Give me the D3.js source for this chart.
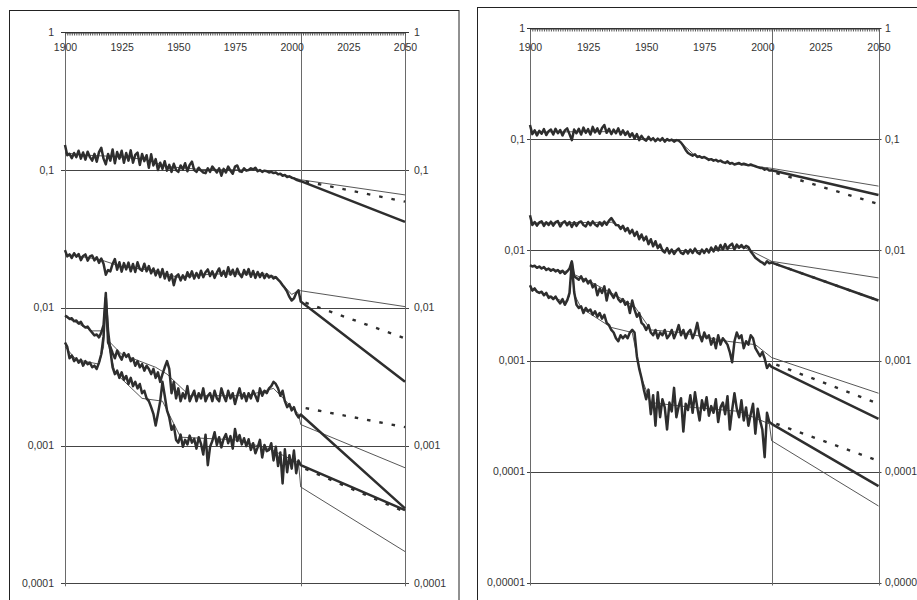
<!DOCTYPE html>
<html>
<head>
<meta charset="utf-8">
<script src="https://cdn.jsdelivr.net/npm/d3@7"></script>
<style>
  body { margin: 0; background: #fff; }
  svg { display: block; font-family: "Liberation Sans", Arial, sans-serif; }
</style>
</head>
<body>
<svg id="chart" width="917" height="600"></svg>
<script>
// yearly observed values 1900..2004
const histYears = d3.range(1900, 2005);
const projYears = [2004, 2050];
const yearLabels = [1900, 1925, 1950, 1975, 2000, 2025, 2050];

// ---- left panel ----
const leftA = [
  0.152, 0.128, 0.131, 0.122, 0.133, 0.124, 0.138, 0.121, 0.134, 0.119,
  0.136, 0.124, 0.117, 0.131, 0.115, 0.135, 0.145, 0.121, 0.11, 0.131,
  0.117, 0.141, 0.112, 0.135, 0.121, 0.138, 0.113, 0.133, 0.117, 0.139,
  0.113, 0.129, 0.134, 0.109, 0.131, 0.116, 0.128, 0.104, 0.13, 0.108,
  0.12, 0.1, 0.113, 0.102, 0.116, 0.099, 0.109, 0.097, 0.111, 0.1,
  0.097, 0.108, 0.101, 0.112, 0.098, 0.109, 0.115, 0.1, 0.097, 0.104,
  0.099, 0.096, 0.095, 0.103, 0.097, 0.106, 0.101, 0.096, 0.103, 0.091,
  0.102, 0.096, 0.106, 0.099, 0.094, 0.106, 0.108, 0.098, 0.097, 0.103,
  0.099, 0.1, 0.103, 0.101, 0.104, 0.098, 0.1, 0.097, 0.099, 0.098,
  0.096, 0.097, 0.095, 0.096, 0.093, 0.094, 0.091, 0.092, 0.089, 0.09,
  0.088, 0.087, 0.085, 0.084, 0.083
];
const leftB = [
  0.0262, 0.0236, 0.0244, 0.023, 0.0249, 0.0235, 0.0246, 0.0222, 0.0238, 0.0244,
  0.022, 0.0236, 0.024, 0.0221, 0.0233, 0.0212, 0.0228, 0.0209, 0.0174, 0.0188,
  0.0184, 0.0208, 0.0226, 0.0189, 0.0214, 0.0183, 0.0211, 0.019, 0.0213, 0.0184,
  0.0208, 0.0182, 0.0214, 0.0191, 0.0186, 0.0209, 0.0184, 0.0201, 0.0178, 0.0193,
  0.0172, 0.0189, 0.0167, 0.0191, 0.0163, 0.0182, 0.0158, 0.0175, 0.0146, 0.0169,
  0.0175, 0.0158, 0.0172, 0.016, 0.0181, 0.0167, 0.0184, 0.0163, 0.0179, 0.0165,
  0.0186, 0.0167, 0.0181, 0.019, 0.017, 0.0184, 0.0165, 0.018, 0.0193, 0.0171,
  0.0185, 0.0168, 0.0197, 0.0174, 0.0189, 0.017, 0.0192, 0.0175, 0.0167, 0.0188,
  0.0174, 0.0191, 0.0168, 0.0185, 0.0165, 0.0182, 0.0167, 0.0179, 0.0164, 0.0176,
  0.0166, 0.0171, 0.0163, 0.0167, 0.016, 0.0154, 0.0146, 0.0139, 0.0131, 0.012,
  0.0113, 0.0117, 0.0128, 0.0134, 0.0111
];
const leftC = [
  0.0088, 0.0086, 0.0083, 0.0084, 0.008, 0.0081, 0.0077, 0.0079, 0.0074, 0.0072,
  0.0073, 0.0069, 0.0066, 0.0063, 0.0064, 0.0061, 0.0066, 0.0075, 0.0128, 0.0056,
  0.0052, 0.0047, 0.0043, 0.0049, 0.0045, 0.0042, 0.0047, 0.0044, 0.0046, 0.0041,
  0.0043, 0.0038, 0.0041, 0.0037, 0.0039, 0.0035, 0.0038, 0.0036, 0.0033, 0.0036,
  0.0031, 0.0034, 0.0029, 0.0033, 0.0037, 0.0041, 0.0036, 0.0024, 0.0029, 0.0022,
  0.0026, 0.0021, 0.0024, 0.0022, 0.0027, 0.0021, 0.0023, 0.0025, 0.0021, 0.0024,
  0.0022, 0.0026, 0.0021, 0.0023, 0.0024, 0.0021, 0.0025, 0.0022, 0.0021, 0.0026,
  0.0023, 0.0021, 0.0025, 0.0022, 0.0024, 0.002, 0.0023, 0.0026, 0.0022, 0.0024,
  0.0021, 0.0024, 0.0022, 0.0025, 0.0023, 0.0021, 0.0026, 0.0023, 0.0025, 0.0024,
  0.0026, 0.0027, 0.0029, 0.0028, 0.0026, 0.0023, 0.0025, 0.0021, 0.0019, 0.002,
  0.0018, 0.0019, 0.0017, 0.0016, 0.00168
];
const leftD = [
  0.0056, 0.0052, 0.0043, 0.0045, 0.0041, 0.0043, 0.004, 0.0042, 0.0038, 0.0041,
  0.0039, 0.004, 0.0037, 0.0038, 0.0036, 0.004, 0.0046, 0.0062, 0.0118, 0.0068,
  0.0049, 0.0037, 0.0033, 0.0035, 0.0031, 0.0034, 0.003, 0.0032, 0.0028, 0.0031,
  0.0027, 0.0029, 0.0026, 0.0028, 0.0024, 0.0025, 0.0022, 0.0021, 0.0019, 0.0017,
  0.0014, 0.0017, 0.0021, 0.0029, 0.0023, 0.0018, 0.0016, 0.0013, 0.0014, 0.0011,
  0.00105, 0.0012, 0.00098, 0.0011, 0.00102, 0.00118, 0.00105, 0.00112, 0.00095, 0.00115,
  0.00103, 0.00086, 0.0012, 0.00072, 0.00098, 0.00108, 0.00125, 0.00101, 0.00115, 0.00097,
  0.00112, 0.00121, 0.00104, 0.00117, 0.00095, 0.00132, 0.00108, 0.00119, 0.00102, 0.00113,
  0.00099, 0.00111, 0.00093, 0.00104, 0.00088, 0.00097, 0.0011, 0.00082, 0.00101, 0.00091,
  0.00093, 0.00104, 0.00078, 0.00098, 0.00071, 0.00089, 0.00053, 0.00094, 0.00064, 0.00085,
  0.00068, 0.00092, 0.00063, 0.00078, 0.00072
];
// smoothed trend lines, [year, value]
const leftATrend = [[1900, 0.133], [1910, 0.128], [1920, 0.126], [1935, 0.12], [1945, 0.106], [1960, 0.101], [1985, 0.1], [1995, 0.094], [2004, 0.085]];
const leftBTrend = [[1900, 0.0245], [1915, 0.0225], [1925, 0.0199], [1940, 0.0186], [1950, 0.0166], [1965, 0.0176], [1988, 0.0176], [1993, 0.0168], [2000, 0.0125], [2003, 0.0133]];
const leftCTrend = [[1900, 0.0086], [1912, 0.0068], [1917, 0.0068], [1918, 0.0118], [1919, 0.0058], [1925, 0.0046], [1940, 0.0037], [1945, 0.0033], [1955, 0.0023], [1980, 0.0023], [1992, 0.0026], [2000, 0.0019], [2003, 0.0017]];
const leftDTrend = [[1900, 0.0052], [1905, 0.0042], [1915, 0.0039], [1917, 0.0052], [1918, 0.0112], [1919, 0.0055], [1922, 0.0034], [1934, 0.0022], [1943, 0.0021], [1951, 0.00115], [1975, 0.0011], [1990, 0.00095], [2003, 0.00075]];
// scenario values at 2004 and 2050
const leftProjThin = [[0.085, 0.066], [0.0133, 0.0102], [0.00142, 0.00069], [0.0005, 0.00017]];
const leftProjDashed = [[0.084, 0.059], [0.0112, 0.006], [0.0019, 0.00136], [0.0007, 0.00033]];
const leftProjBold = [[0.083, 0.042], [0.0111, 0.0029], [0.00168, 0.00035], [0.00072, 0.00034]];
const leftTicks = [1, 0.1, 0.01, 0.001, 0.0001];
const leftTickLabels = ["1", "0,1", "0,01", "0,001", "0,0001"];

// ---- right panel ----
const rightA = [
  0.134, 0.111, 0.12, 0.108, 0.119, 0.112, 0.123, 0.109, 0.118, 0.122,
  0.11, 0.124, 0.113, 0.121, 0.108, 0.12, 0.125, 0.111, 0.098, 0.122,
  0.113, 0.124, 0.11, 0.127, 0.114, 0.123, 0.11, 0.129, 0.115, 0.125,
  0.112, 0.126, 0.134, 0.114, 0.124, 0.111, 0.122, 0.113, 0.125, 0.11,
  0.12, 0.109, 0.117, 0.105, 0.113, 0.101, 0.111, 0.098, 0.107, 0.1,
  0.097, 0.105, 0.098, 0.102, 0.096, 0.101, 0.097, 0.102, 0.095, 0.1,
  0.097, 0.099, 0.095, 0.098, 0.097, 0.093, 0.087, 0.08, 0.075, 0.073,
  0.071, 0.073, 0.069, 0.07, 0.068, 0.069, 0.067, 0.065, 0.066, 0.064,
  0.065, 0.063, 0.064, 0.062, 0.061, 0.063, 0.06, 0.061, 0.059, 0.06,
  0.061, 0.059, 0.06, 0.059, 0.058, 0.059, 0.058, 0.057, 0.056, 0.055,
  0.055, 0.053, 0.054, 0.052, 0.0525
];
const rightB = [
  0.0206, 0.0168, 0.0179, 0.0166, 0.0177, 0.0181, 0.0165, 0.0178, 0.0168, 0.018,
  0.0166, 0.0178, 0.0182, 0.0163, 0.0176, 0.0181, 0.0167, 0.0179, 0.0161, 0.0178,
  0.0165, 0.0177, 0.0181, 0.0168, 0.0163, 0.0179, 0.0167, 0.0181, 0.017, 0.0164,
  0.0178, 0.0166, 0.018, 0.0169, 0.0184, 0.0194, 0.0181, 0.0168, 0.0167, 0.0155,
  0.0165, 0.0148, 0.0158, 0.0141, 0.0152, 0.0134, 0.0146, 0.0125, 0.0138, 0.0122,
  0.0132, 0.0113, 0.0125, 0.0108, 0.012, 0.0104, 0.0112, 0.0099, 0.0095, 0.0104,
  0.0093, 0.0101, 0.0092, 0.0099, 0.0103, 0.0094, 0.0092, 0.01, 0.0093, 0.0101,
  0.0094, 0.0103, 0.0095, 0.0092, 0.0101, 0.0094, 0.0102, 0.0095, 0.0105, 0.0097,
  0.0108, 0.0099, 0.0111, 0.0101, 0.0113, 0.0102, 0.011, 0.0114, 0.0101, 0.0112,
  0.0105, 0.0111, 0.0104, 0.0109, 0.0106, 0.0097, 0.0091, 0.0085, 0.0082, 0.0079,
  0.0077, 0.0074, 0.0079, 0.0076, 0.0077
];
const rightC = [
  0.0073, 0.0071, 0.0072, 0.0069, 0.0071, 0.0068, 0.007, 0.0066, 0.0068, 0.0065,
  0.0067, 0.0064, 0.0066, 0.0062, 0.0065, 0.0061, 0.0064, 0.0068, 0.0079, 0.0058,
  0.0056, 0.0054, 0.0058, 0.0052, 0.0055, 0.005, 0.0053, 0.0046, 0.0049, 0.0039,
  0.0045, 0.0041, 0.0047, 0.0035, 0.0044, 0.004, 0.0037, 0.0041, 0.0036, 0.0034,
  0.0036, 0.0032, 0.0034, 0.0027, 0.0035, 0.0029, 0.0025, 0.0027, 0.0022, 0.0021,
  0.0019, 0.0021, 0.0018, 0.0017, 0.0019, 0.0016, 0.0018, 0.0017, 0.0019, 0.0016,
  0.0017, 0.0019, 0.0016, 0.0018, 0.0021, 0.0017, 0.0019, 0.0016, 0.0018, 0.0019,
  0.0016, 0.0018, 0.0022, 0.0017, 0.0015, 0.0018, 0.0016, 0.0017, 0.0014, 0.0016,
  0.0013, 0.0017, 0.0014, 0.0016, 0.0015, 0.0014, 0.0012, 0.00097, 0.0015, 0.0018,
  0.0016, 0.0017, 0.0013, 0.0015, 0.0014, 0.0017, 0.0016, 0.0013, 0.0012, 0.0011,
  0.0012, 0.00105, 0.00086, 0.00093, 0.00088
];
const rightD = [
  0.0048, 0.0043, 0.0045, 0.0042, 0.0041, 0.0042, 0.0039, 0.0041, 0.0037, 0.0038,
  0.0036, 0.0038, 0.0035, 0.0033, 0.0036, 0.0032, 0.0035, 0.0041, 0.0077, 0.0042,
  0.0032, 0.003, 0.0031, 0.0027, 0.003, 0.0028, 0.0029, 0.0026, 0.0028, 0.0025,
  0.0027, 0.0024, 0.0026, 0.0022, 0.0021, 0.0019, 0.0018, 0.0016, 0.0015, 0.0017,
  0.0016, 0.0017, 0.0016, 0.0018, 0.0019, 0.0018, 0.0011, 0.00085, 0.0007, 0.00055,
  0.00045, 0.00055, 0.00033, 0.00049, 0.00026, 0.00052, 0.00031, 0.00045, 0.00038, 0.00024,
  0.00042, 0.00035, 0.00057, 0.00031, 0.00039, 0.00046, 0.00023, 0.00041, 0.00036, 0.00049,
  0.00034, 0.00052, 0.00038, 0.00029, 0.00044, 0.00036, 0.00047, 0.00032, 0.00039, 0.00034,
  0.00045, 0.00028, 0.00038, 0.00042, 0.00033, 0.00048, 0.00024, 0.00036, 0.00051, 0.00037,
  0.00031, 0.00044, 0.00029, 0.00038, 0.00026, 0.00033, 0.00041, 0.00022, 0.00037, 0.00029,
  0.00024, 0.000135, 0.00034, 0.00028, 0.00027
];
const rightATrend = [[1900, 0.116], [1940, 0.117], [1950, 0.1], [1964, 0.097], [1971, 0.071], [1985, 0.061], [2004, 0.0545]];
const rightBTrend = [[1900, 0.0175], [1935, 0.0178], [1945, 0.0142], [1958, 0.0099], [1975, 0.0098], [1992, 0.0106], [2004, 0.0079]];
const rightCTrend = [[1900, 0.0072], [1915, 0.0064], [1917, 0.0066], [1918, 0.0078], [1919, 0.006], [1925, 0.0053], [1935, 0.0041], [1945, 0.0031], [1952, 0.0019], [1965, 0.0018], [1985, 0.0015], [1997, 0.0014], [2004, 0.00107]];
const rightDTrend = [[1900, 0.0045], [1915, 0.0034], [1917, 0.0038], [1918, 0.0076], [1919, 0.004], [1922, 0.003], [1935, 0.002], [1944, 0.0018], [1948, 0.0007], [1952, 0.00042], [1970, 0.00038], [1990, 0.00035], [2003, 0.00027]];
const rightProjThin = [[0.0545, 0.0377], [0.0079, 0.0056], [0.00107, 0.00051], [0.00019, 0.000049]];
const rightProjDashed = [[0.051, 0.026], [0.0077, 0.0035], [0.00096, 0.00041], [0.00028, 0.000125]];
const rightProjBold = [[0.0525, 0.0313], [0.0077, 0.0035], [0.00088, 0.0003], [0.00027, 0.000074]];
const rightTicks = [1, 0.1, 0.01, 0.001, 0.0001, 0.00001];
const rightTickLabels = ["1", "0,1", "0,01", "0,001", "0,0001", "0,00001"];

const svg = d3.select("#chart");
const ink = "#333";

function drawPanel(p) {
  const x = d3.scaleLinear().domain([1900, 2050]).range([p.x0, p.x1]);
  const y = d3.scaleLog().domain([p.ticks[p.ticks.length - 1], 1]).range([p.y1, p.y0]);
  const g = svg.append("g");

  // frame (runs off the page at bottom / right like the scan)
  g.append("rect")
    .attr("x", p.frame[0]).attr("y", p.frame[1])
    .attr("width", p.frame[2]).attr("height", 700)
    .attr("fill", "none").attr("stroke", "#222").attr("stroke-width", 1);

  // horizontal gridlines with small outer ticks
  g.selectAll("line.grid").data(p.ticks.slice(1)).join("line")
    .attr("class", "grid")
    .attr("x1", p.x0 - p.tickOut).attr("x2", p.x1 + p.tickOut)
    .attr("y1", d => Math.round(y(d)) + 0.5).attr("y2", d => Math.round(y(d)) + 0.5)
    .attr("stroke", "#444");

  // vertical lines: axes and start of projections
  g.selectAll("line.vert").data([1900, 2004, 2050]).join("line")
    .attr("class", "vert")
    .attr("x1", d => Math.round(x(d)) + 0.5).attr("x2", d => Math.round(x(d)) + 0.5)
    .attr("y1", p.y0).attr("y2", p.y1 + 3)
    .attr("stroke", "#6a6a6a");

  // top year axis
  g.append("g")
    .attr("transform", `translate(0,${Math.round(p.y0) + 0.5})`)
    .call(d3.axisBottom(x).tickValues(d3.range(1900, 2051)).tickSize(3).tickSizeOuter(0)
      .tickFormat(d => yearLabels.includes(d) ? d : ""))
    .attr("font-family", null).attr("font-size", 10.5)
    .call(a => a.select(".domain").attr("stroke", ink))
    .call(a => a.selectAll(".tick line").attr("stroke", "#555"))
    .call(a => a.selectAll(".tick text").attr("fill", ink).attr("dy", null)
      .attr("y", 50.5 - (Math.round(p.y0) + 0.5)));
  // extend top line to outer ticks
  g.append("line")
    .attr("x1", p.x0 - p.tickOut).attr("x2", p.x1 + p.tickOut)
    .attr("y1", Math.round(p.y0) + 0.5).attr("y2", Math.round(p.y0) + 0.5)
    .attr("stroke", ink);

  // value labels both sides
  const labels = g.append("g").attr("font-size", 10.5).attr("fill", ink);
  labels.selectAll("text.l").data(p.ticks).join("text")
    .attr("class", "l")
    .attr("x", p.labelLeft).attr("y", d => y(d)).attr("dy", "0.35em")
    .attr("text-anchor", "end")
    .text((d, i) => p.tickLabels[i]);
  labels.selectAll("text.r").data(p.ticks).join("text")
    .attr("class", "r")
    .attr("x", p.labelRight).attr("y", d => y(d)).attr("dy", "0.35em")
    .attr("text-anchor", "start")
    .text((d, i) => p.tickLabels[i]);

  const line = d3.line().x(d => x(d[0])).y(d => y(d[1]));

  p.series.forEach((vals, i) => {
    const thin = p.trends[i].concat(projYears.map((yr, j) => [yr, p.projThin[i][j]]));
    g.append("path").attr("d", line(thin))
      .attr("fill", "none").attr("stroke", "#444").attr("stroke-width", 0.9);
  });
  p.series.forEach((vals, i) => {
    const hist = histYears.map((yr, j) => [yr, vals[j]]);
    const bold = hist.concat(projYears.map((yr, j) => [yr, p.projBold[i][j]]));
    g.append("path").attr("d", line(bold))
      .attr("fill", "none").attr("stroke", "#2e2e2e").attr("stroke-width", 2.5)
      .attr("stroke-linejoin", "round");
    g.append("path").attr("d", line(projYears.map((yr, j) => [yr, p.projDashed[i][j]])))
      .attr("fill", "none").attr("stroke", "#2e2e2e").attr("stroke-width", 2.4)
      .attr("stroke-dasharray", "3.5,9").attr("stroke-dashoffset", -5);
  });
}

drawPanel({
  x0: 65, x1: 405, y0: 32.3, y1: 583.3,
  frame: [9.5, 10.5, 449.5],
  tickOut: 4, labelLeft: 54, labelRight: 414,
  ticks: leftTicks, tickLabels: leftTickLabels,
  series: [leftA, leftB, leftC, leftD],
  trends: [leftATrend, leftBTrend, leftCTrend, leftDTrend],
  projThin: leftProjThin, projDashed: leftProjDashed, projBold: leftProjBold
});

drawPanel({
  x0: 530, x1: 878.5, y0: 28.3, y1: 582.5,
  frame: [477.5, 7.5, 460],
  tickOut: 3, labelLeft: 525, labelRight: 885,
  ticks: rightTicks, tickLabels: rightTickLabels,
  series: [rightA, rightB, rightC, rightD],
  trends: [rightATrend, rightBTrend, rightCTrend, rightDTrend],
  projThin: rightProjThin, projDashed: rightProjDashed, projBold: rightProjBold
});
</script>
</body>
</html>
